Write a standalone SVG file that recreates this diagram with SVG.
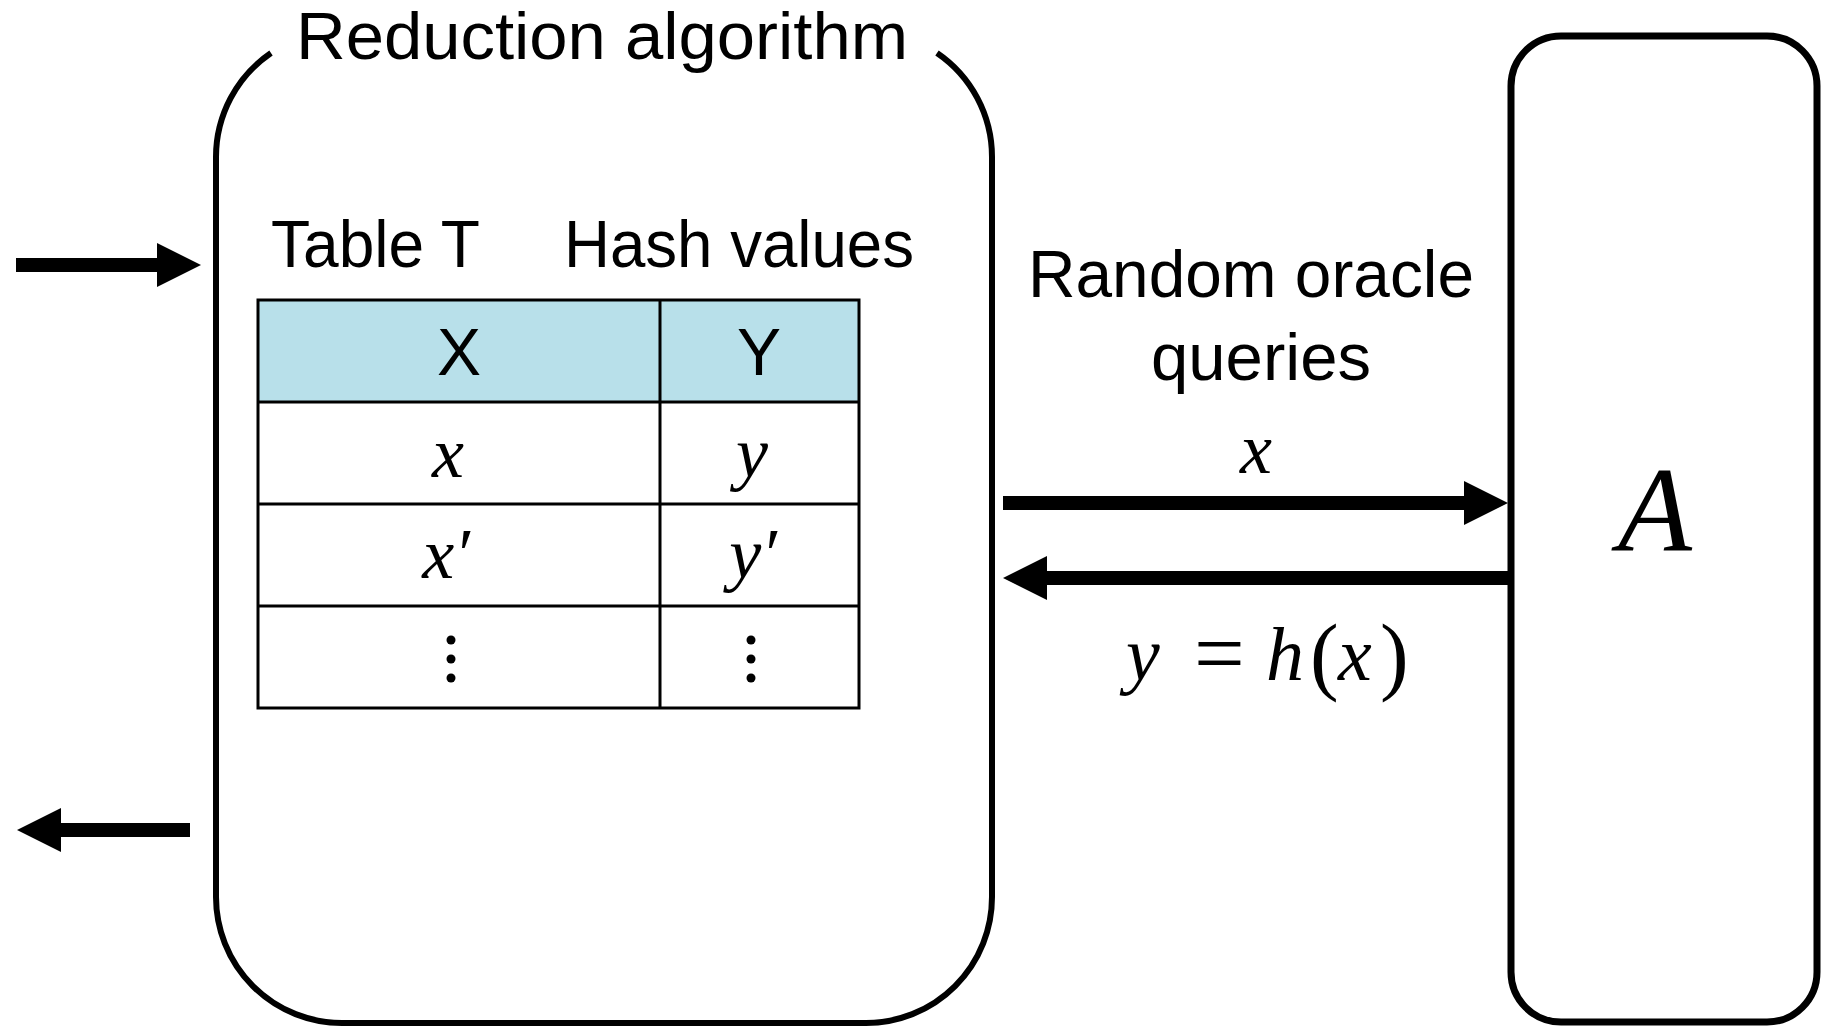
<svg xmlns="http://www.w3.org/2000/svg" width="1822" height="1029" viewBox="0 0 1822 1029">
  <style>
    .label { font-family: "Liberation Sans", Arial, sans-serif; font-size: 66px; fill: #000; }
    .math { font-family: "Liberation Serif", "Times New Roman", serif; font-style: italic; fill: #000; }
    .up { font-style: normal; }
    .box { fill: none; stroke: #000; }
    .grid { fill: none; stroke: #000; stroke-width: 3; }
    .conn { fill: none; stroke: #000; stroke-width: 14; stroke-linecap: butt; }
  </style>
  <defs>
    <marker id="head" markerUnits="userSpaceOnUse" markerWidth="44" markerHeight="44" refX="0" refY="22" orient="auto" viewBox="0 0 44 44">
      <path d="M0,0 L44,22 L0,44 Z" fill="#000"/>
    </marker>
  </defs>

  <rect width="1822" height="1029" fill="#fff"/>

  <!-- Reduction algorithm: rounded box with an opening for its title -->
  <g id="reduction">
    <path class="box" stroke-width="6" d="M271,53 A126,126 0 0 0 216,157 L216,897 A126,126 0 0 0 342,1023 L866,1023 A126,126 0 0 0 992,897 L992,157 A126,126 0 0 0 937,53"/>
    <text class="label" x="296" y="59" textLength="612" lengthAdjust="spacingAndGlyphs">Reduction algorithm</text>
    <text class="label" x="271" y="267" textLength="209" lengthAdjust="spacingAndGlyphs">Table T</text>
    <text class="label" x="564" y="267" textLength="350" lengthAdjust="spacingAndGlyphs">Hash values</text>
  </g>

  <!-- Table T -->
  <g id="table">
    <rect x="258" y="300" width="601" height="102" fill="#B8E0EA"/>
    <rect class="grid" x="258" y="300" width="601" height="408"/>
    <line class="grid" x1="660" y1="300" x2="660" y2="708"/>
    <line class="grid" x1="258" y1="402" x2="859" y2="402"/>
    <line class="grid" x1="258" y1="504" x2="859" y2="504"/>
    <line class="grid" x1="258" y1="606" x2="859" y2="606"/>
    <text class="label" x="459" y="375" text-anchor="middle">X</text>
    <text class="label" x="759" y="375" text-anchor="middle">Y</text>
    <text class="math" font-size="72" x="448" y="477" text-anchor="middle">x</text>
    <text class="math" font-size="72" x="752" y="477" text-anchor="middle">y</text>
    <text class="math" font-size="72" x="446" y="578" text-anchor="middle">x′</text>
    <text class="math" font-size="72" x="753" y="578" text-anchor="middle">y′</text>
    <g fill="#000">
      <circle cx="451" cy="640" r="4.5"/>
      <circle cx="451" cy="659" r="4.5"/>
      <circle cx="451" cy="678" r="4.5"/>
      <circle cx="751" cy="640" r="4.5"/>
      <circle cx="751" cy="659" r="4.5"/>
      <circle cx="751" cy="678" r="4.5"/>
    </g>
  </g>

  <!-- Adversary A -->
  <g id="adversary">
    <rect class="box" stroke-width="7" x="1511" y="36" width="306" height="986" rx="50" ry="50"/>
    <text class="math" font-size="121" x="1655" y="551" text-anchor="middle">A</text>
  </g>

  <!-- Oracle query labels -->
  <g id="oracle-labels">
    <text class="label" x="1028" y="297" textLength="446" lengthAdjust="spacingAndGlyphs">Random oracle</text>
    <text class="label" x="1261" y="380" text-anchor="middle" textLength="220" lengthAdjust="spacingAndGlyphs">queries</text>
    <text class="math" font-size="72" x="1256" y="473" text-anchor="middle">x</text>
    <text class="math" font-size="76" y="680"><tspan x="1126">y</tspan><tspan class="up" x="1194" font-size="90" y="684">=</tspan><tspan x="1266" y="680">h</tspan><tspan class="up" x="1310" font-size="86" y="684">(</tspan><tspan x="1338" y="680">x</tspan><tspan class="up" x="1380" font-size="86" y="684">)</tspan></text>
  </g>

  <!-- Connectors -->
  <g id="connectors">
    <line class="conn" x1="16" y1="265" x2="157" y2="265" marker-end="url(#head)"/>
    <line class="conn" x1="1003" y1="503" x2="1464" y2="503" marker-end="url(#head)"/>
    <line class="conn" x1="1508" y1="578" x2="1047" y2="578" marker-end="url(#head)"/>
    <line class="conn" x1="190" y1="830" x2="61" y2="830" marker-end="url(#head)"/>
  </g>
</svg>
